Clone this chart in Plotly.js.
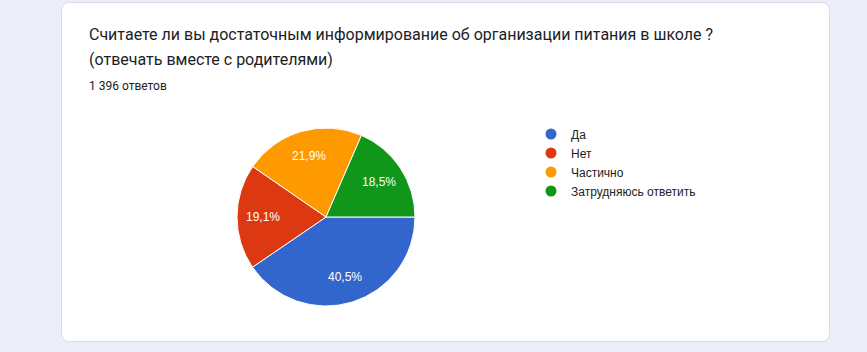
<!DOCTYPE html>
<html>
<head>
<meta charset="utf-8">
<script src="https://cdn.plot.ly/plotly-3.0.1.min.js"></script>
<style>
  html, body { margin:0; padding:0; width:867px; height:352px; overflow:hidden; background:#ebeef8; }
  #card { position:absolute; left:61px; top:2px; width:767px; height:338px; background:#fff; border:1px solid #dadce0; border-radius:8px; }
  #chart { position:absolute; left:0; top:0; width:867px; height:352px; }
</style>
</head>
<body>
<div id="card"></div>
<div id="chart"></div>
<script>
const questionLine1 = 'Считаете ли вы достаточным информирование об организации питания в школе ?';
const questionLine2 = '(отвечать вместе с родителями)';
const labels = ['Да', 'Нет', 'Частично', 'Затрудняюсь ответить'];
const counts = [565, 267, 306, 258];
const colors = ['#3366cc', '#dc3912', '#ff9900', '#109618'];

const total = counts.reduce((a, b) => a + b, 0);
const totalText = String(total).replace(/\B(?=(\d{3})+(?!\d))/g, ' ') + ' ответов';

const W = 867, H = 352;
const cx = 326, cy = 217, r = 89;
const startDeg = 90;

const pie = {
  type: 'pie',
  labels: labels,
  values: counts,
  sort: false,
  direction: 'clockwise',
  rotation: startDeg,
  showlegend: false,
  marker: { colors: colors, line: { color: '#ffffff', width: 1 } },
  textinfo: 'none',
  hoverinfo: 'label+value+percent',
  domain: { x: [(cx - r) / W, (cx + r) / W], y: [(H - cy - r) / H, (H - cy + r) / H] }
};

// Percentage labels placed at each slice's mid-angle, derived from the data
const sliceLabels = [];
let acc = 0;
counts.forEach((v) => {
  const frac = v / total;
  const mid = (startDeg + (acc + frac / 2) * 360) * Math.PI / 180;
  acc += frac;
  const rr = 0.71 * r;
  const px = cx + rr * Math.sin(mid);
  const py = cy - rr * Math.cos(mid);
  sliceLabels.push({
    text: (frac * 100).toFixed(1).replace('.', ',') + '%',
    xref: 'paper', yref: 'paper', x: px / W, y: 1 - py / H,
    xanchor: 'center', yanchor: 'middle', showarrow: false,
    font: { family: 'Liberation Sans, Arial, sans-serif', size: 12, color: '#ffffff' }
  });
});

const legendTraces = labels.map((lab, i) => ({
  type: 'scatter', mode: 'markers', x: [null], y: [null], name: lab,
  marker: { color: colors[i], size: 11, symbol: 'circle' },
  hoverinfo: 'skip', showlegend: true
}));

const layout = {
  width: W, height: H,
  margin: { l: 0, r: 0, t: 0, b: 0 },
  paper_bgcolor: 'rgba(0,0,0,0)',
  plot_bgcolor: 'rgba(0,0,0,0)',
  separators: ', ',
  xaxis: { visible: false, range: [0, 1] },
  yaxis: { visible: false, range: [0, 1] },
  showlegend: true,
  legend: {
    x: 531 / W, y: 1 - 119.5 / H, xanchor: 'left', yanchor: 'top',
    font: { family: 'Liberation Sans, Arial, sans-serif', size: 12, color: '#222222' },
    bgcolor: 'rgba(0,0,0,0)', tracegroupgap: 0
  },
  annotations: [
    { text: questionLine1, xref: 'paper', yref: 'paper', x: 87 / W, y: 1 - 34.5 / H,
      xanchor: 'left', yanchor: 'middle', showarrow: false,
      font: { family: 'Roboto, sans-serif', size: 16, color: '#202124' } },
    { text: questionLine2, xref: 'paper', yref: 'paper', x: 87 / W, y: 1 - 59.5 / H,
      xanchor: 'left', yanchor: 'middle', showarrow: false,
      font: { family: 'Roboto, sans-serif', size: 16, color: '#202124' } },
    { text: totalText, xref: 'paper', yref: 'paper', x: 87 / W, y: 1 - 86 / H,
      xanchor: 'left', yanchor: 'middle', showarrow: false,
      font: { family: 'Roboto, sans-serif', size: 12, color: '#202124' } }
  ].concat(sliceLabels)
};

Plotly.newPlot('chart', [pie].concat(legendTraces), layout, { displayModeBar: false, staticPlot: true });
</script>
</body>
</html>
